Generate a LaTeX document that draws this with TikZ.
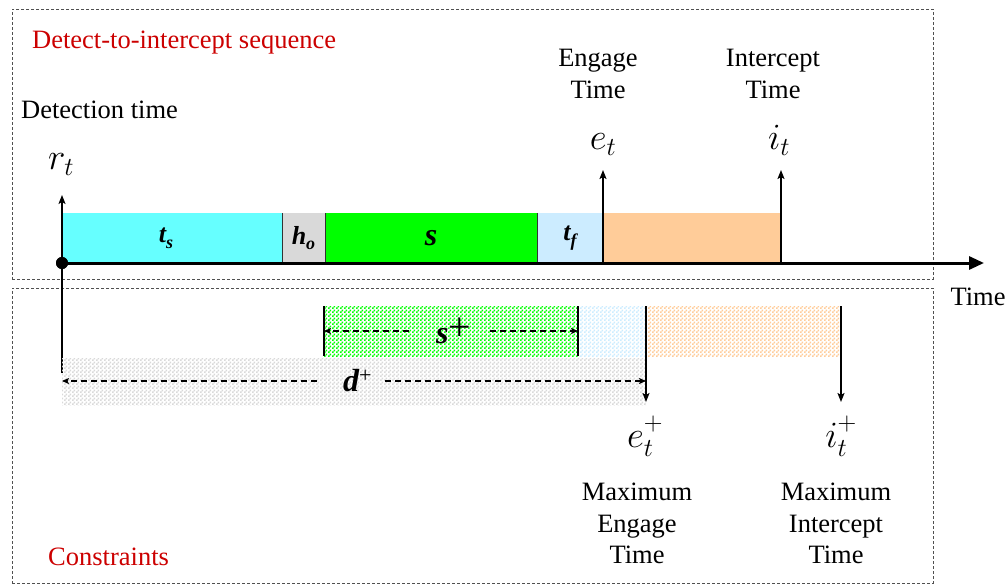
\RequirePackage{fix-cm}
\documentclass[tikz,border=0pt]{standalone}
\usepackage[no-math]{fontspec}
\setmainfont{Liberation Serif}
\usetikzlibrary{arrows.meta,patterns}

% fine two-colour checkerboard used for the constraint bars
\pgfdeclarepatternformonly{checker}{\pgfpointorigin}{\pgfpoint{4pt}{4pt}}{\pgfpoint{4pt}{4pt}}{%
  \pgfpathrectangle{\pgfpointorigin}{\pgfpoint{2pt}{2pt}}%
  \pgfpathrectangle{\pgfpoint{2pt}{2pt}}{\pgfpoint{2pt}{2pt}}%
  \pgfusepath{fill}}

\definecolor{tsfill}{HTML}{66FFFF}
\definecolor{hofill}{HTML}{D9D9D9}
\definecolor{sfill}{HTML}{00FF00}
\definecolor{tffill}{HTML}{CCECFF}
\definecolor{engfill}{HTML}{FFCC99}
\definecolor{framegray}{HTML}{505050}
\definecolor{labelred}{HTML}{CC0000}

\newcommand\segsub[1]{\raisebox{-0.22em}{\fontsize{18}{18}\selectfont #1}}
\newcommand\hiplus{\raisebox{3pt}{$\scriptstyle +$}}

\tikzset{
  frame/.style={draw=framegray, dash pattern=on 3pt off 2pt, line width=0.9pt, inner sep=0pt},
  txt/.style={font=\fontsize{26.5}{31.5}\selectfont, align=center, inner sep=0pt},
  mth/.style={font=\fontsize{37}{40}\selectfont, inner sep=0pt},
  seglab/.style={font=\fontsize{26}{28}\selectfont\bfseries\itshape},
  segbox/.style={anchor=south west, inner sep=0pt, outer sep=0pt, minimum height=50pt},
  lowbox/.style={anchor=south west, inner sep=0pt, outer sep=0pt, minimum height=50pt, pattern=checker},
  divider/.style={draw=black!80, line width=1pt},
  edge/.style={draw=black, line width=1.5pt},
  tick/.style={line width=2pt, -{Stealth[length=9pt,width=7pt,inset=2pt]}},
  thintick/.style={line width=1.2pt, -{Stealth[length=9pt,width=7pt,inset=2pt]}},
  axis/.style={line width=3pt, -{Triangle[length=15pt,width=13pt]}},
  dim/.style={line width=1.1pt, dash pattern=on 6pt off 4pt, -{Stealth[length=7pt,width=6pt,inset=1.5pt]}},
  dimlab/.style={anchor=west, inner ysep=0pt, outer sep=0pt}
}

\begin{document}
\begin{tikzpicture}[x=1pt,y=-1pt]
\useasboundingbox (0,0) rectangle (1008,585);

% the two dashed panels
\node[frame, minimum width=921pt, minimum height=270pt] (seqframe) at (472.5,144) {};
\node[frame, minimum width=921pt, minimum height=295pt] (conframe) at (472.5,435.5) {};

% detect-to-intercept phases on the time axis
\node[segbox, seglab, fill=tsfill, minimum width=220pt] (ts) at (62,263) {t\segsub{s}\kern12pt};
\node[segbox, seglab, fill=hofill, minimum width=43pt] (ho) at (ts.south east) {h\segsub{o}};
\node[segbox, seglab, fill=sfill, minimum width=212pt, font=\fontsize{32}{32}\selectfont\bfseries\itshape] (sb) at (ho.south east) {s};
\node[segbox, seglab, fill=tffill, minimum width=66pt] (tf) at (sb.south east) {t\segsub{f}};
\node[segbox, fill=engfill, minimum width=178pt] (eng) at (tf.south east) {};

\draw[divider] (ts.south east) -- (ts.north east);
\draw[divider] (ho.south east) -- (ho.north east);
\draw[divider] (sb.south east) -- (sb.north east);

% event markers
\coordinate (rtip) at (62,195);
\coordinate (rfoot) at (62,373);
\coordinate (etip) at (603,170);
\coordinate (itip) at (781,170);
\draw[thintick] (rfoot) -- (rtip);
\draw[tick] (eng.south west) -- (etip);
\draw[tick] (eng.south east) -- (itip);

% time axis
\node[circle, fill=black, inner sep=0pt, minimum size=12pt] (det) at (62,263) {};
\coordinate (tend) at (984,263);
\draw[axis] (det.center) -- (tend);
\node[circle, fill=black, inner sep=0pt, minimum size=12pt] at (det) {};

% constraint bars
\node[lowbox, pattern color=sfill, minimum width=254pt] (sp) at (324,356) {};
\node[lowbox, pattern color=tffill, minimum width=68pt] (tfp) at (sp.south east) {};
\node[lowbox, pattern color=engfill, minimum width=195pt] (engp) at (tfp.south east) {};
\node[lowbox, pattern color=hofill, minimum width=584pt, minimum height=47pt] (dp) at (62,405) {};

\draw[edge] (sp.north west) -- (sp.south west);
\draw[edge] (sp.north east) -- (sp.south east);
\coordinate (emaxtip) at (646,402);
\coordinate (imaxtip) at (841,402);
\draw[tick] (tfp.north east) -- (emaxtip);
\draw[tick] (engp.north east) -- (imaxtip);

% dimension arrows
\node[dimlab, inner xsep=19pt] (splab) at (409,331) {\kern8pt{\fontsize{32}{32}\selectfont\bfseries\itshape s}\raisebox{3pt}{\fontsize{40}{40}\selectfont +}};
\draw[dim] (splab.west) -- (sp.west |- splab);
\draw[dim] (splab.east) -- (sp.east |- splab);
\node[dimlab, inner xsep=14pt] (dlab) at (317,381) {\kern12pt{\fontsize{32}{32}\selectfont\bfseries\itshape d}\raisebox{9pt}{\fontsize{22}{22}\selectfont +}};
\draw[dim] (dlab.west) -- (dp.west |- dlab);
\draw[dim] (dlab.east) -- (tfp.east |- dlab);

% labels
\node[txt, text=labelred, anchor=base west] (seqtitle) at (32,49) {Detect-to-intercept sequence};
\node[txt, anchor=base west] (dettime) at (21,119) {Detection time};
\node[mth, anchor=base] (rt) at (61,170) {$r_t$};
\node[mth, anchor=base] (et) at (603,150) {$e_t$};
\node[mth, anchor=base] (it) at (779,150) {$i_t$};
\node[txt, anchor=north] (englab) at (598,49) {Engage\\Time};
\node[txt, anchor=north] (intlab) at (773,49) {Intercept\\Time};
\node[mth, anchor=base] (emax) at (645,447) {$e_t^{\hiplus}$};
\node[mth, anchor=base] (imax) at (841,447) {$i_t^{\hiplus}$};
\node[txt, anchor=north] (emaxlab) at (637,483) {Maximum\\Engage\\Time};
\node[txt, anchor=north] (imaxlab) at (836,483) {Maximum\\Intercept\\Time};
\node[txt, anchor=base] (timelab) at (978,305) {Time};
\node[txt, text=labelred, anchor=base west] (conlab) at (48,565) {Constraints};
\end{tikzpicture}
\end{document}
